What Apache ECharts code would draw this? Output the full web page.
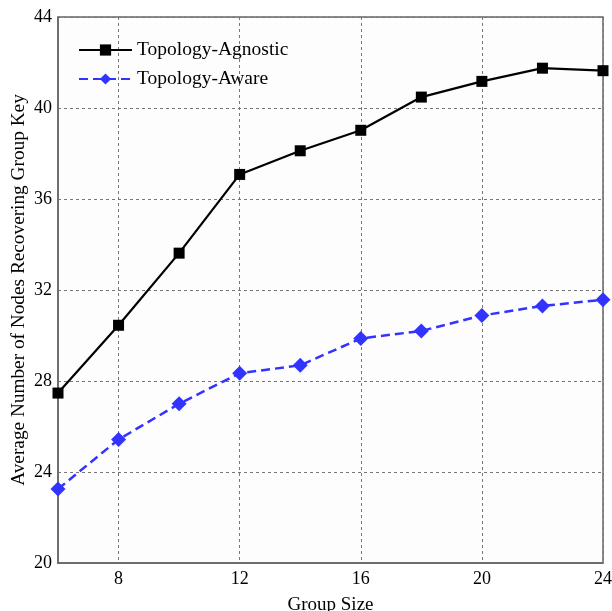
<!DOCTYPE html>
<html><head><meta charset="utf-8">
<script src="https://cdn.jsdelivr.net/npm/echarts@6/dist/echarts.min.js"></script>
<style>html,body{margin:0;padding:0;background:#fff}#c{width:612px;height:611px}</style>
</head><body><div id="c"></div>
<script>
const groupSizes = [6, 8, 10, 12, 14, 16, 18, 20, 22, 24];
const agnostic = [27.47, 30.45, 33.62, 37.08, 38.12, 39.02, 40.48, 41.17, 41.75, 41.64];
const aware = [23.25, 25.43, 27.0, 28.34, 28.69, 29.87, 30.2, 30.88, 31.3, 31.57];
const xTicks = [8, 12, 16, 20, 24];
const seriesNames = ['Topology-Agnostic', 'Topology-Aware'];

const font = 'Liberation Serif, Times New Roman, serif';
const chart = echarts.init(document.getElementById('c'));
chart.setOption({
  animation: false,
  backgroundColor: '#fff',
  grid: { left: 58, right: 9, top: 17, bottom: 48, outerBoundsMode: 'none', containLabel: false,
          show: true, borderColor: '#666', borderWidth: 1.5, backgroundColor: '#fdfdfd' },
  legend: {
    orient: 'vertical', left: 73, top: 35, itemWidth: 53, itemHeight: 14, itemGap: 9,
    textStyle: { fontFamily: font, fontSize: 19.5, color: '#000' },
    data: seriesNames
  },
  xAxis: {
    type: 'value', min: 6, max: 24,
    name: 'Group Size', nameLocation: 'middle', nameGap: 33, nameMoveOverlap: false,
    nameTextStyle: { fontFamily: font, fontSize: 19, color: '#000' },
    axisLine: { show: true, onZero: false, lineStyle: { color: '#666', width: 1.5 } },
    axisTick: { show: false, customValues: xTicks },
    axisLabel: { customValues: xTicks, fontFamily: font, fontSize: 18, color: '#000', margin: 7 },
    splitLine: { show: true, lineStyle: { color: '#777', type: [3, 3], width: 1 } }
  },
  yAxis: {
    type: 'value', min: 20, max: 44, interval: 4,
    name: 'Average Number of Nodes Recovering Group Key', nameLocation: 'middle', nameGap: 30, nameMoveOverlap: false,
    nameTextStyle: { fontFamily: font, fontSize: 19.3, color: '#000' },
    axisLine: { show: true, lineStyle: { color: '#666', width: 1.5 } },
    axisTick: { show: false },
    axisLabel: { fontFamily: font, fontSize: 18, color: '#000', margin: 6 },
    splitLine: { show: true, lineStyle: { color: '#777', type: [3, 3], width: 1 } }
  },
  series: [
    {
      name: seriesNames[0], type: 'line',
      data: groupSizes.map((x, i) => [x, agnostic[i]]),
      symbol: 'rect', symbolSize: 11,
      lineStyle: { color: '#000', width: 2.2 },
      itemStyle: { color: '#000' }
    },
    {
      name: seriesNames[1], type: 'line',
      data: groupSizes.map((x, i) => [x, aware[i]]),
      symbol: 'diamond', symbolSize: 15,
      lineStyle: { color: '#3333ff', width: 2.5, type: [9, 5] },
      itemStyle: { color: '#3333ff' }
    }
  ]
});
</script></body></html>
